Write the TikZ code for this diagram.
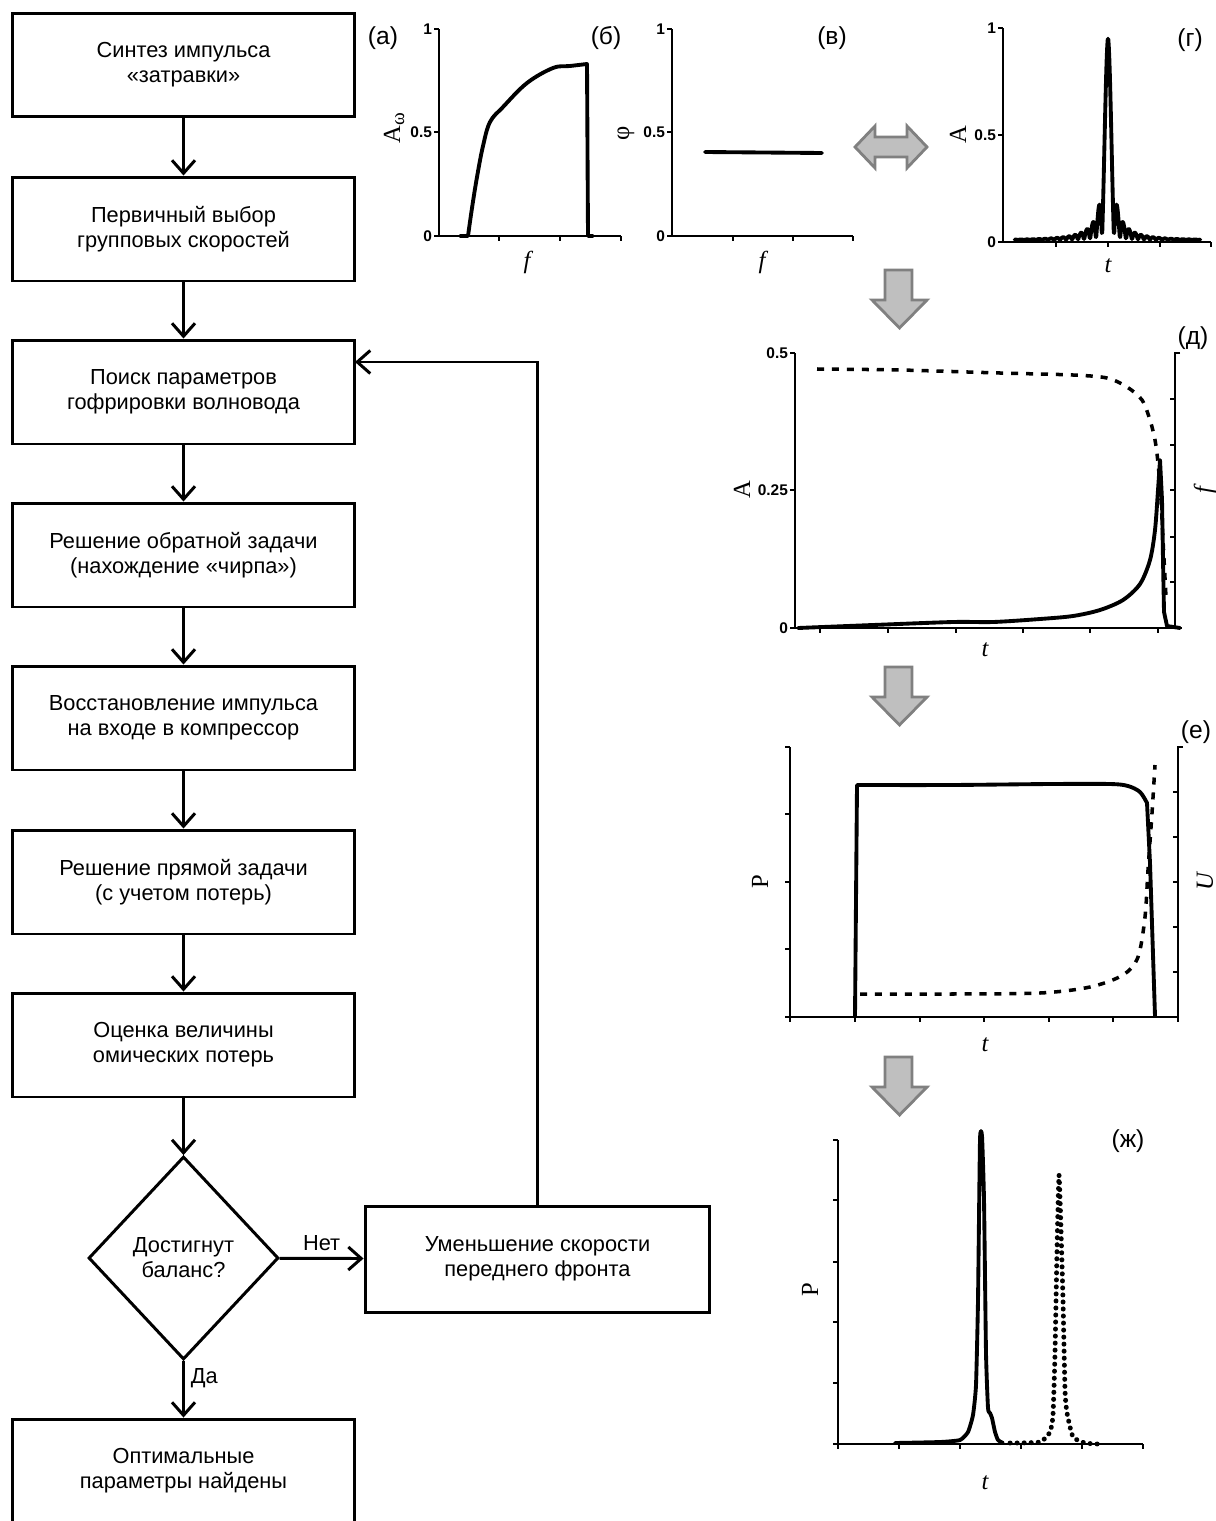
\documentclass[tikz,border=0pt]{standalone}
\usepackage{fontspec}
\setmainfont{Liberation Sans}
\newfontfamily\serifA{Liberation Serif}
\usetikzlibrary{arrows.meta,shapes.geometric}

\tikzset{
  box/.style={draw, line width=1.7pt, minimum width=6.86cm, minimum height=2.08cm,
    align=center, font=\fontsize{12.4}{14.2}\selectfont},
  decision/.style={draw, diamond, line width=1.7pt, aspect=0.94, inner sep=0pt,
    minimum width=3.8cm, minimum height=4.06cm, align=center,
    font=\fontsize{12.4}{14.2}\selectfont},
  flow/.style={line width=1.7pt, -{Straight Barb[length=2.6mm,width=4.6mm]}},
  lbl/.style={font=\fontsize{12.4}{14.2}\selectfont},
  panel/.style={font=\fontsize{14}{16}\selectfont},
  axis/.style={line width=0.9pt},
  ticklab/.style={font=\bfseries\fontsize{8.8}{10}\selectfont, inner sep=1pt},
  axlab/.style={font=\serifA\fontsize{14}{16}\selectfont, inner sep=0pt},
  curve/.style={line width=2.2pt, line join=round, line cap=round},
  dashcurve/.style={line width=2pt, dash pattern=on 4pt off 4.5pt},
  dotcurve/.style={line width=2.8pt, line cap=round, dash pattern=on 0.1pt off 3.9pt},
  grayarrow/.style={fill=gray!50, draw=gray, line width=1.6pt, line join=miter}
}

\begin{document}
\begin{tikzpicture}[x=0.02cm, y=-0.02cm]
\useasboundingbox (0,0) rectangle (1216,1521);

% flowchart
\node[box] (synth)   at (183.5,65)   {Синтез импульса\\«затравки»};
\node[box] (choice)  at (183.5,229)  {Первичный выбор\\групповых скоростей};
\node[box] (search)  at (183.5,392)  {Поиск параметров\\гофрировки волновода};
\node[box] (inverse) at (183.5,555)  {Решение обратной задачи\\(нахождение «чирпа»)};
\node[box] (restore) at (183.5,718)  {Восстановление импульса\\на входе в компрессор};
\node[box] (direct)  at (183.5,882)  {Решение прямой задачи\\(с учетом потерь)};
\node[box] (loss)    at (183.5,1045) {Оценка величины\\омических потерь};
\node[decision] (check) at (183.5,1258) {Достигнут\\баланс?};
\node[box, minimum width=6.9cm, minimum height=2.12cm] (reduce) at (537.5,1259)
  {Уменьшение скорости\\переднего фронта};
\node[box] (optimum) at (183.5,1471) {Оптимальные\\параметры найдены};
\coordinate (loopin) at (355,362);

\foreach \a/\b in {synth/choice, choice/search, search/inverse, inverse/restore,
                   restore/direct, direct/loss, loss/check}
  \draw[flow] (\a) -- (\b);
\draw[flow] (check) -- node[above, lbl] {Нет} (reduce);
\draw[flow] (check) -- node[right, lbl, pos=0.3] {Да} (optimum);
\draw[flow] (reduce.north) |- (loopin);

% panel labels
\node[panel] at (383,38)   {(а)};
\node[panel] at (606,38)   {(б)};
\node[panel] at (832,38)   {(в)};
\node[panel] at (1190,40)  {(г)};
\node[panel] at (1193,338) {(д)};
\node[panel] at (1196,732) {(е)};
\node[panel] at (1128,1141){(ж)};

% (б) amplitude spectrum
\draw[axis] (439,29) -- (439,236) -- (621,236);
\foreach \y/\t in {29/1, 132/0.5, 236/0} {
  \draw[axis] (434,\y) -- (439,\y);
  \node[ticklab, left] at (434,\y) {\t};
}
\foreach \x in {499,560,621} \draw[axis] (\x,236) -- (\x,241);
\node[axlab, rotate=90] at (394,128) {A\raisebox{-0.35ex}{\fontsize{11}{12}\selectfont ω}};
\node[axlab] at (527,262) {\itshape f};
\draw[curve] (460,236) -- (468,236) plot[smooth, tension=0.6] coordinates
  {(468,236) (472,208) (477,177) (483,146) (490,122) (503,107) (527,83) (553,68) (570,66) (587,64)}
  -- (588,236) -- (593,236);

% (в) phase
\draw[axis] (672,29) -- (672,236) -- (853,236);
\foreach \y/\t in {29/1, 132/0.5, 236/0} {
  \draw[axis] (667,\y) -- (672,\y);
  \node[ticklab, left] at (667,\y) {\t};
}
\foreach \x in {733,793,853} \draw[axis] (\x,236) -- (\x,241);
\node[axlab, rotate=90] at (626,133) {φ};
\node[axlab] at (762,262) {\itshape f};
\draw[curve] (705,152) -- (822,153);

% two-way transform arrow
\draw[grayarrow] (855,147) -- (875,126) -- (875,137) -- (907,137) -- (907,126)
  -- (927,147) -- (907,168) -- (907,157) -- (875,157) -- (875,168) -- cycle;

% (г) time domain
\draw[axis] (1003,28) -- (1003,242) -- (1211,242);
\foreach \y/\t in {28/1, 135/0.5, 242/0} {
  \draw[axis] (998,\y) -- (1003,\y);
  \node[ticklab, left] at (998,\y) {\t};
}
\foreach \x in {1056,1108,1160,1211} \draw[axis] (\x,242) -- (\x,247);
\node[axlab, rotate=90] at (958,135) {A};
\node[axlab] at (1108,266) {\itshape t};
\draw[curve] plot[domain=-93.25:92.25, samples=372]
  (\x+1108, {240 - 203*abs(sin(30*\x)/(0.5236*\x))*exp(-abs(\x)/40)});

% downward arrows
\foreach \dy in {0,397,787}
  \draw[grayarrow] (885,270+\dy) -- (912,270+\dy) -- (912,300+\dy) -- (927,300+\dy)
    -- (899.5,328+\dy) -- (872,300+\dy) -- (885,300+\dy) -- cycle;

% (д) chirp
\draw[axis] (795,353) -- (795,628) -- (1182,628);
\foreach \y/\t in {353/0.5, 490/0.25, 628/0} {
  \draw[axis] (790,\y) -- (795,\y);
  \node[ticklab, left] at (790,\y) {\t};
}
\foreach \x in {820,888,956,1023,1090,1158} \draw[axis] (\x,628) -- (\x,633);
\draw[axis] (1180,353) -- (1175,353) -- (1175,628);
\foreach \y in {399,445,490,537,582} \draw[axis] (1170,\y) -- (1175,\y);
\node[axlab, rotate=90] at (742,490) {A};
\node[axlab, rotate=90] at (1205,490) {\itshape f};
\node[axlab] at (985,650) {\itshape t};
\draw[dashcurve] plot[smooth, tension=0.5] coordinates
  {(817,369) (900,370) (1000,373) (1073,375) (1107,378) (1127,387) (1142,400)
   (1150,420) (1155,440) (1158,463) (1161,500) (1163,540) (1166,597)};
\draw[curve] plot[smooth, tension=0.5] coordinates
  {(798,628) (873,625) (953,622) (993,622) (1040,619) (1073,616) (1100,610)
   (1123,600) (1140,584) (1150,560) (1155,530) (1158,490) (1160,460)}
  -- (1162,500) -- (1163,560) -- (1164,612) -- (1167,626) -- (1180,628);

% (е) power and voltage
\draw[axis] (790,747) -- (790,1017) -- (1178,1017);
\foreach \y in {747,814,882,949,1017} \draw[axis] (785,\y) -- (790,\y);
\foreach \x in {790,855,920,984,1049,1113,1178} \draw[axis] (\x,1017) -- (\x,1022);
\draw[axis] (1183,747) -- (1178,747) -- (1178,1017);
\foreach \y in {792,837,882,927,972} \draw[axis] (1173,\y) -- (1178,\y);
\node[axlab, rotate=90] at (760,882) {P};
\node[axlab, rotate=90] at (1205,882) {\itshape U};
\node[axlab] at (985,1045) {\itshape t};
\draw[dashcurve] plot[smooth, tension=0.5] coordinates
  {(860,994) (950,994) (1040,993) (1090,987) (1123,975) (1138,957) (1145,917)
   (1148,870) (1152,813) (1155,765)};
\draw[curve] (855,1016) -- (857,785) plot[smooth, tension=0.5] coordinates
  {(857,785) (950,785) (1050,784) (1110,784) (1128,786) (1140,792) (1147,803)}
  -- (1150,863) -- (1155,1016);

% (ж) compressed pulses
\draw[axis] (838,1140) -- (838,1444) -- (1143,1444);
\foreach \y in {1140,1200,1262,1322,1383,1444} \draw[axis] (833,\y) -- (838,\y);
\foreach \x in {838,899,960,1021,1082,1143} \draw[axis] (\x,1444) -- (\x,1449);
\node[axlab, rotate=90] at (810,1290) {P};
\node[axlab] at (985,1483) {\itshape t};
\draw[curve] plot[smooth, tension=0.3] coordinates
  {(895,1443) (940,1442) (960,1440) (968,1432) (973,1415) (976,1385) (978,1300)
   (980,1140) (982,1136) (984,1200) (986,1353) (988,1408) (990,1413) (992,1418)
   (995,1432) (998,1440) (1003,1443)};
\draw[dotcurve] plot[smooth, tension=0.3] coordinates
  {(1010,1443) (1040,1442) (1050,1432) (1053,1415) (1055,1353) (1057,1250)
   (1059,1175) (1061,1230) (1063,1300) (1065,1390) (1067,1413) (1073,1437)
   (1085,1443) (1098,1444)};
\end{tikzpicture}
\end{document}
